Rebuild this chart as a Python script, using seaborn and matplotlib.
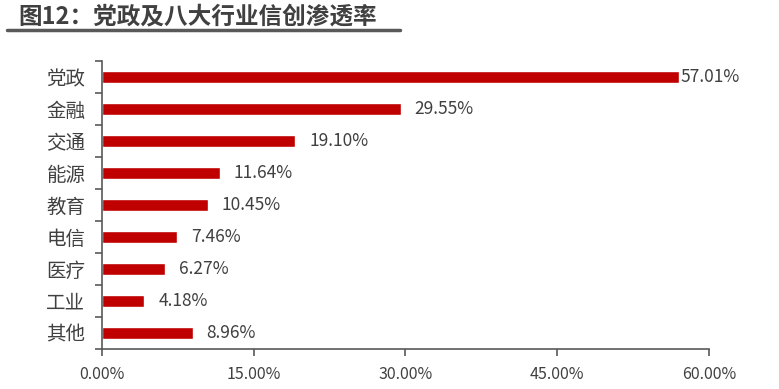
import pandas as pd
import numpy as np
import matplotlib.pyplot as plt
import seaborn as sns
from matplotlib.ticker import PercentFormatter, FixedLocator

# 数据
categories = ['党政', '金融', '交通', '能源', '教育', '电信', '医疗', '工业', '其他']
values = [57.01, 29.55, 19.10, 11.64, 10.45, 7.46, 6.27, 4.18, 8.96]
x_ticks = [0, 15, 30, 45, 60]

sns.set_theme(style='white')
plt.rcParams['font.family'] = ['Noto Sans CJK SC', 'DejaVu Sans']

df = pd.DataFrame({'行业': categories, '渗透率': values})

fig = plt.figure(figsize=(7.79, 3.89), dpi=100)
ax = fig.add_axes([0.131, 0.103, 0.779, 0.740])

sns.barplot(data=df, y='行业', x='渗透率', orient='h', color='#C00000',
            width=0.4, saturation=1, ax=ax)

# 数据标签
for i, v in enumerate(values):
    off = 1.5 if v > 50 else 10
    ax.annotate(f'{v:.2f}%', xy=(v, i), xytext=(off, 0), textcoords='offset points',
                va='center', ha='left', fontsize=12.5, color='#404040')

ax.set_xlim(0, 60)
ax.set_ylim(len(categories) - 0.5, -0.5)
ax.set_xticks(x_ticks)
ax.xaxis.set_major_formatter(PercentFormatter(decimals=2))
ax.set_xlabel('')
ax.set_ylabel('')

# 坐标轴样式
for s in ['top', 'right']:
    ax.spines[s].set_visible(False)
for s in ['left', 'bottom']:
    ax.spines[s].set_color('#595959')
    ax.spines[s].set_linewidth(1.2)

ax.tick_params(axis='x', direction='out', length=5, width=1.2, color='#595959',
               labelsize=11.5, labelcolor='#404040', pad=7, bottom=True)
ax.tick_params(axis='y', which='major', length=0, labelsize=14,
               labelcolor='#404040', pad=12)
ax.yaxis.set_minor_locator(FixedLocator(np.arange(-0.5, len(categories), 1)))
ax.tick_params(axis='y', which='minor', direction='out', length=5, width=1.2,
               color='#595959', left=True)

# 标题
fig.text(0.023, 0.958, '图12：党政及八大行业信创渗透率', fontsize=17, fontweight='bold',
         color='#404040', va='center', ha='left')
fig.add_artist(plt.Line2D([0.009, 0.513], [0.922, 0.922], color='#595959', linewidth=2.5))

plt.savefig('out.png', dpi=100)
